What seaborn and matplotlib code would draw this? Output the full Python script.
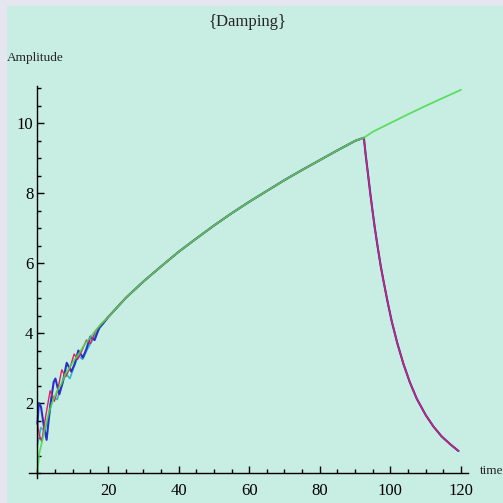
import matplotlib
matplotlib.use("Agg")
import matplotlib.pyplot as plt
from matplotlib.patches import Rectangle
from matplotlib.ticker import FixedLocator, MultipleLocator
import numpy as np
import pandas as pd
import seaborn as sns

# --- start-up oscillations, one list per driven oscillator -----------------
blue_t = [0, 0.4, 1.0, 1.8, 2.6, 3.6, 4.6, 5.1, 6.2, 7.2, 8.3, 9.6, 10.5,
          11.6, 12.9, 13.9, 15.0, 16.2, 17.5, 18.8]
blue_a = [1.4, 2.0, 1.9, 1.35, 0.95, 1.9, 2.6, 2.7, 2.25, 2.6, 3.15, 2.9, 3.1,
          3.5, 3.3, 3.55, 3.9, 3.8, 4.15, 4.3]

red_t = [0, 0.5, 1.2, 2.3, 3.6, 4.8, 5.8, 6.9, 8.0, 9.2, 10.4, 11.4, 12.6,
         13.9, 15.0, 16.4, 18.0]
red_a = [1.45, 1.1, 0.9, 1.6, 2.35, 2.05, 2.4, 2.95, 2.75, 3.0, 3.4, 3.25, 3.5,
         3.8, 3.7, 4.05, 4.25]

cyan_t = [0, 1.0, 2.0, 3.2, 4.4, 5.6, 6.8, 8.0, 9.2, 10.4, 11.6, 12.8, 14.2,
          15.6, 17.0, 18.5]
cyan_a = [0.8, 1.3, 1.2, 1.6, 2.2, 2.1, 2.5, 2.85, 2.7, 3.05, 3.35, 3.25, 3.55,
          3.8, 4.05, 4.25]

green_t = [0, 0.5, 1.2, 2.2, 3.3, 4.5, 5.6, 6.8, 8.0, 9.3, 10.6, 12.0, 13.4,
           14.8, 16.3, 18.0]
green_a = [0.0, 0.55, 0.85, 1.3, 1.75, 2.1, 2.35, 2.55, 2.85, 3.05, 3.25, 3.45,
           3.68, 3.85, 4.05, 4.25]

# --- common steady growth while the drive is on ----------------------------
rise_t = [20, 25, 30, 35, 40, 45, 50, 55, 60, 65, 70, 75, 80, 85, 90, 92.5]
rise_a = [4.45, 5.0, 5.47, 5.9, 6.32, 6.7, 7.07, 7.42, 7.75, 8.06, 8.37, 8.66,
          8.94, 9.22, 9.49, 9.58]

# --- drive kept on (green) ---------------------------------------------------
drive_t = [95, 100, 105, 110, 115, 120]
drive_a = [9.75, 10.0, 10.25, 10.49, 10.72, 10.95]

# --- drive switched off: free damped decay ----------------------------------
decay_t = [93.0, 93.6, 94.3, 95.0, 95.6, 96.5, 97.3, 98.0, 99.2, 100.4, 102.0,
           103.7, 105.5, 107.5, 110.0, 112.2, 114.5, 117.0, 119.3]
decay_a = [9.1, 8.6, 8.0, 7.45, 7.0, 6.4, 5.9, 5.52, 4.9, 4.33, 3.7,
           3.12, 2.6, 2.12, 1.66, 1.33, 1.05, 0.82, 0.63]

curves = {
    "cyan":  (cyan_t, cyan_a, "decay"),
    "blue":  (blue_t, blue_a, "decay"),
    "red":   (red_t, red_a, "decay"),
    "green": (green_t, green_a, "drive"),
}
colors = {"cyan": "#30b8c8", "blue": "#2830c8", "red": "#e02060", "green": "#48dc48"}
widths = {"cyan": 1.2, "blue": 1.5, "red": 1.0, "green": 1.3}
alphas = {"cyan": 1.0, "blue": 1.0, "red": 1.0, "green": 0.85}

frames = []
for name, (t0, a0, tail) in curves.items():
    tt = list(t0) + rise_t + (drive_t if tail == "drive" else decay_t)
    aa = list(a0) + rise_a + (drive_a if tail == "drive" else decay_a)
    frames.append(pd.DataFrame({"time": tt, "Amplitude": aa, "curve": name}))
df = pd.concat(frames, ignore_index=True)

sns.set_style("ticks")
plt.rcParams["font.family"] = ["Liberation Serif", "DejaVu Serif"]

W = H = 503
fig = plt.figure(figsize=(W / 100, H / 100), dpi=100, facecolor="#e6e6f0")
fig.patches.append(Rectangle((7 / W, 0), 1 - 7 / W, 1 - 6 / H,
                             transform=fig.transFigure, facecolor="#c8ede3",
                             edgecolor="none", zorder=-10))

ax = fig.add_axes([28.6 / W, (H - 478.3) / H, (468 - 28.6) / W, (478.3 - 86.3) / H])
ax.set_facecolor("none")
ax.set_zorder(5)

for name in curves:
    sub = df[df["curve"] == name]
    sns.lineplot(data=sub, x="time", y="Amplitude", ax=ax, color=colors[name],
                 linewidth=widths[name], alpha=alphas[name], estimator=None,
                 sort=False, legend=False)

ax.set_xlim(-2.5, 122)
ax.set_ylim(-0.15, 11.05)

for side in ("top", "right"):
    ax.spines[side].set_visible(False)
for side in ("left", "bottom"):
    ax.spines[side].set_position(("data", 0))
    ax.spines[side].set_color("black")
    ax.spines[side].set_linewidth(1.0)

ax.xaxis.set_major_locator(FixedLocator([20, 40, 60, 80, 100, 120]))
ax.xaxis.set_minor_locator(MultipleLocator(5))
ax.yaxis.set_major_locator(FixedLocator([2, 4, 6, 8, 10]))
ax.yaxis.set_minor_locator(MultipleLocator(0.5))
ax.tick_params(which="both", bottom=True, left=True, top=False, right=False)
ax.tick_params(which="major", direction="in", length=5, width=1.0, color="black",
               labelsize=12, labelcolor="black")
ax.tick_params(which="minor", direction="in", length=3, width=1.0, color="black")
ax.tick_params(axis="x", which="major", pad=7)
ax.tick_params(axis="y", which="major", pad=3)
ax.set_xlabel("")
ax.set_ylabel("")

fig.text(7 / W, 1 - 58 / H, "Amplitude", fontsize=9.5, va="center", ha="left")
fig.text(480 / W, 1 - 471 / H, "time", fontsize=9.5, va="center", ha="left")
fig.text(247.5 / W, 1 - 22 / H, "{Damping}", fontsize=12, va="center", ha="center")

fig.savefig("out.png", dpi=100, facecolor=fig.get_facecolor())
